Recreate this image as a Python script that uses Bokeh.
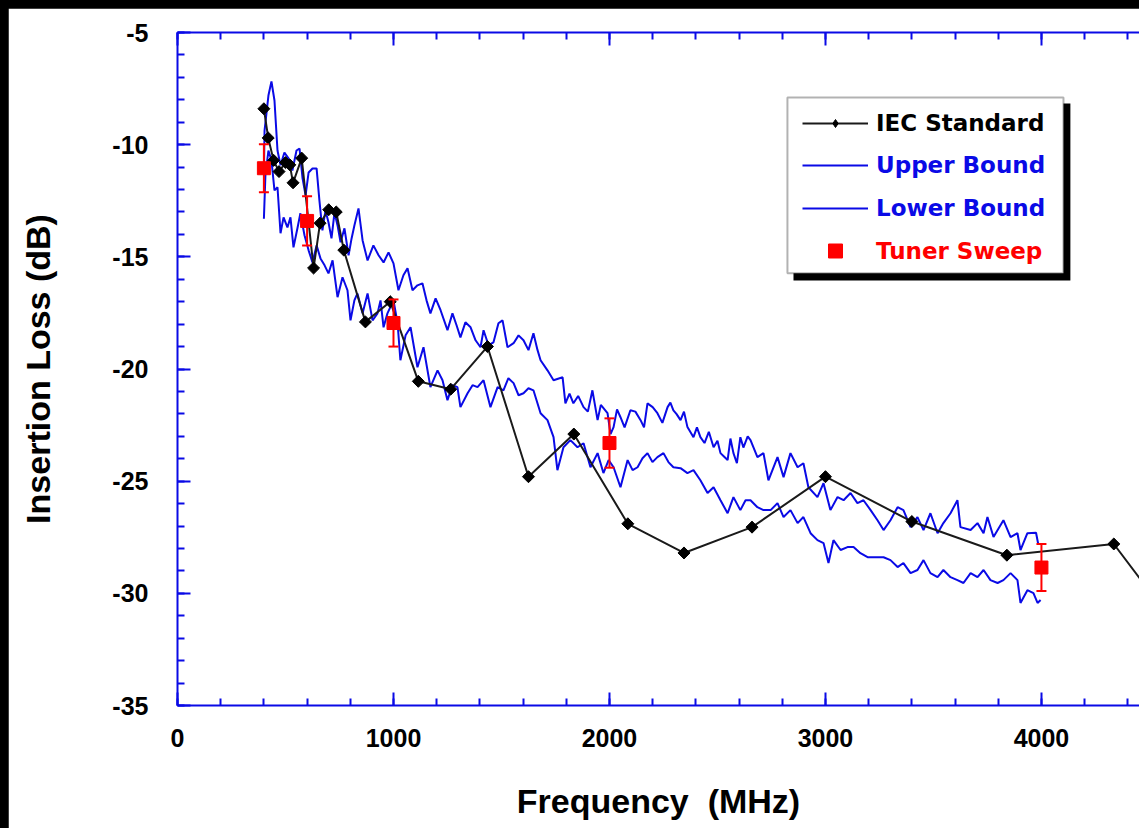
import math
from bokeh.plotting import figure
from bokeh.models import (ColumnDataSource, LinearAxis, SingleIntervalTicker, Range1d,
                          Whisker, TeeHead, Legend, LegendItem, BoxAnnotation,
                          PrintfTickFormatter, CustomJSTickFormatter)
from bokeh.layouts import column
from bokeh.embed import file_html
from bokeh.resources import INLINE

# ---------------- data ----------------
iec_freq = [400, 420, 445, 470, 500, 520, 535, 575, 630, 660, 700, 735, 770, 870, 985,
            1115, 1265, 1435, 1625, 1835, 2085, 2345, 2660, 3000, 3400, 3840, 4335, 4500]
iec_loss = [-8.4, -9.7, -10.7, -11.2, -10.8, -10.9, -11.7, -10.6, -15.5, -13.5, -12.9, -13.0,
            -14.7, -17.9, -17.0, -20.55, -20.9, -19.0, -24.8, -22.9, -26.9, -28.2, -27.05,
            -24.8, -26.8, -28.3, -27.8, -29.9]

upper_freq = [400, 403, 421, 435, 449, 463, 477, 495, 514, 532, 551, 565, 579, 593, 607, 625,
              644, 657, 671, 685, 699, 713, 727, 741, 755, 773, 792, 806, 819, 838, 857, 880,
              907, 931, 954, 977, 1000, 1023, 1046, 1065, 1088, 1111, 1134, 1153, 1171, 1195,
              1218, 1250, 1273, 1292, 1310, 1333, 1357, 1380, 1403, 1417, 1440, 1463, 1486,
              1505, 1528, 1556, 1579, 1602, 1625, 1648, 1667, 1681, 1713, 1741, 1783, 1796,
              1815, 1833, 1855, 1880, 1900, 1921, 1945, 1960, 1991, 2005, 2019, 2035, 2051,
              2070, 2097, 2120, 2144, 2160, 2176, 2200, 2222, 2245, 2269, 2282, 2296, 2310,
              2329, 2345, 2361, 2389, 2405, 2421, 2440, 2460, 2482, 2500, 2514, 2530, 2547,
              2560, 2574, 2590, 2606, 2620, 2640, 2653, 2685, 2713, 2736, 2778, 2806, 2838,
              2871, 2898, 2921, 2963, 2991, 3023, 3056, 3084, 3116, 3148, 3176, 3209, 3241,
              3269, 3301, 3334, 3361, 3394, 3426, 3454, 3486, 3519, 3546, 3579, 3611, 3625,
              3672, 3704, 3732, 3750, 3778, 3824, 3857, 3889, 3903, 3935, 3975, 3985]
upper_loss = [-11.3, -9.37, -7.81, -7.18, -8.03, -10.26, -10.92, -10.35, -10.61, -11.15, -10.26,
              -10.17, -11.50, -12.26, -11.24, -11.06, -11.06, -12.48, -13.82, -12.93, -13.46,
              -14.18, -13.02, -13.60, -14.35, -13.73, -14.93, -14.18, -13.60, -12.84, -14.27,
              -15.16, -14.49, -14.93, -15.25, -14.80, -15.29, -16.49, -15.82, -15.51, -16.49,
              -16.27, -16.18, -16.94, -17.52, -16.85, -17.38, -18.27, -17.52, -18.05, -18.59,
              -17.92, -18.14, -18.72, -19.03, -18.27, -18.94, -18.81, -17.96, -17.83, -19.03,
              -18.85, -18.50, -18.72, -19.16, -18.41, -19.16, -19.61, -20.06, -20.50, -20.37,
              -21.53, -21.1, -21.53, -21.2, -21.70, -21.9, -20.95, -22.28, -21.6, -21.97, -22.9,
              -22.59, -21.8, -22.15, -22.6, -21.84, -21.9, -22.28, -22.6, -21.53, -21.7, -21.97,
              -22.4, -21.70, -21.5, -21.84, -22.0, -22.28, -21.9, -22.59, -23.04, -22.6, -23.04,
              -23.3, -22.8, -23.49, -23.2, -23.75, -23.9, -24.06, -23.1, -23.75, -24.2, -23.04,
              -23.5, -23.0, -23.17, -23.93, -23.75, -24.96, -23.93, -24.82, -23.75, -24.38,
              -24.20, -25.27, -25.71, -25.09, -26.29, -25.71, -25.85, -25.53, -25.98, -25.85,
              -26.29, -26.74, -27.18, -26.74, -26.16, -26.29, -27.05, -26.60, -27.18, -26.43,
              -27.32, -26.87, -26.43, -25.85, -27.05, -27.18, -26.87, -27.32, -26.60, -27.49,
              -26.74, -27.49, -27.32, -28.07, -27.32, -27.30, -27.80]

lower_freq = [400, 407, 421, 435, 449, 463, 477, 491, 509, 523, 537, 556, 569, 588, 607, 625,
              644, 662, 681, 699, 718, 741, 764, 787, 801, 819, 833, 857, 880, 903, 926, 940,
              954, 972, 1000, 1019, 1032, 1056, 1079, 1111, 1139, 1171, 1204, 1227, 1250,
              1273, 1296, 1310, 1343, 1366, 1389, 1417, 1449, 1482, 1509, 1532, 1556, 1579,
              1602, 1625, 1648, 1681, 1713, 1741, 1759, 1787, 1819, 1852, 1880, 1912, 1945,
              1972, 1996, 2019, 2051, 2084, 2107, 2130, 2153, 2176, 2199, 2222, 2250, 2273,
              2296, 2329, 2361, 2389, 2421, 2454, 2482, 2514, 2547, 2574, 2606, 2630, 2653,
              2685, 2713, 2746, 2778, 2806, 2838, 2871, 2898, 2931, 2963, 2991, 3014, 3037,
              3070, 3102, 3130, 3162, 3195, 3241, 3269, 3301, 3334, 3361, 3394, 3426, 3454,
              3486, 3519, 3546, 3579, 3611, 3639, 3672, 3704, 3732, 3764, 3797, 3824, 3857,
              3889, 3903, 3935, 3963, 3982, 3996]
lower_loss = [-13.3, -11.37, -10.26, -10.70, -12.04, -11.90, -13.95, -13.24, -13.69, -13.24,
              -14.58, -13.69, -13.06, -14.04, -14.71, -15.25, -14.49, -15.07, -15.38, -15.74,
              -15.16, -16.80, -15.91, -16.49, -17.83, -16.94, -16.63, -17.52, -16.63, -17.83,
              -17.52, -16.94, -18.14, -17.52, -16.94, -17.96, -19.61, -18.50, -18.14, -19.92,
              -19.03, -20.81, -20.06, -20.50, -21.39, -20.72, -20.81, -21.70, -21.08, -20.72,
              -20.81, -20.50, -21.70, -20.81, -20.95, -20.41, -20.63, -21.17, -21.08, -20.86,
              -20.95, -21.97, -22.28, -23.04, -24.51, -23.49, -23.17, -23.49, -23.31, -24.38,
              -23.75, -24.64, -24.06, -24.38, -25.27, -24.06, -24.51, -24.38, -23.98, -23.75,
              -24.15, -23.93, -23.75, -24.15, -24.38, -24.42, -24.64, -24.51, -24.96, -25.53,
              -25.27, -25.85, -26.43, -25.71, -26.29, -25.85, -25.85, -26.16, -26.29, -26.29,
              -25.98, -26.60, -26.29, -26.87, -26.60, -27.32, -27.63, -27.76, -28.65, -27.63,
              -28.07, -27.94, -27.94, -28.21, -28.39, -28.39, -28.39, -28.52, -28.83, -28.65,
              -29.10, -28.96, -28.52, -29.10, -29.28, -28.96, -29.28, -29.41, -29.54, -29.10,
              -29.28, -28.96, -29.41, -29.54, -29.41, -29.10, -29.41, -30.43, -29.86, -29.99,
              -30.43, -30.30]

tuner_freq = [400, 600, 1000, 2000, 4000]
tuner_loss = [-11.05, -13.4, -17.95, -23.3, -28.85]
tuner_err = [1.07, 1.1, 1.05, 1.1, 1.05]

series_labels = ["IEC Standard", "Upper Bound", "Lower Bound", "Tuner Sweep"]
x_title = "Frequency\u00a0 (MHz)"
y_title = "Insertion Loss (dB)"

# ---------------- styling ----------------
BLUE = "#0a0ae6"
RED = "#ff0000"
AX_FONT = "Liberation Sans"

p = figure(width=1131, height=820, x_range=Range1d(0, 4454), y_range=Range1d(-35, -5),
           output_backend="svg", toolbar_location=None,
           x_axis_location=None, y_axis_location=None,
           min_border_left=169, min_border_right=0, min_border_top=24, min_border_bottom=123,
           background_fill_color="white", border_fill_color="white", outline_line_color=None)
p.grid.grid_line_color = None
p.margin = (8, 0, 0, 8)


def make_axis(ticker, labels=True):
    ax = LinearAxis(ticker=ticker,
                    axis_line_color=BLUE, axis_line_width=2,
                    major_tick_line_color=BLUE, major_tick_line_width=2,
                    minor_tick_line_color=BLUE, minor_tick_line_width=2,
                    major_tick_in=13, major_tick_out=0, minor_tick_in=7, minor_tick_out=0,
                    major_label_text_font=AX_FONT, major_label_text_font_style="bold",
                    major_label_text_font_size="25px",
                    major_label_text_color="black",
                    axis_label_text_font=AX_FONT, axis_label_text_font_style="bold",
                    axis_label_text_font_size="34px", axis_label_text_color="black")
    if labels:
        ax.formatter = PrintfTickFormatter(format="%d")
    else:
        ax.formatter = CustomJSTickFormatter(code="return ''")
    return ax


xb = make_axis(SingleIntervalTicker(interval=1000, num_minor_ticks=5))
xb.axis_label = x_title
xb.major_label_standoff = 23
xb.axis_label_standoff = 32
p.add_layout(xb, "below")

xt = make_axis(SingleIntervalTicker(interval=1000, num_minor_ticks=5), labels=False)
xt.major_label_standoff = 0
p.add_layout(xt, "above")

yl = make_axis(SingleIntervalTicker(interval=5, num_minor_ticks=5))
yl.axis_label = y_title
yl.major_label_standoff = 29
yl.axis_label_standoff = 52
p.add_layout(yl, "left")

# ---------------- data marks ----------------
r_up = p.line(upper_freq, upper_loss, line_color=BLUE, line_width=2)
r_lo = p.line(lower_freq, lower_loss, line_color=BLUE, line_width=2)

r_iec_line = p.line(iec_freq, iec_loss, line_color="#1a1a1a", line_width=2)
# diamond glyph (used by the legend; covered by the rotated squares on the chart)
r_iec_leg = p.scatter(iec_freq, iec_loss, marker="diamond", size=10, fill_color="black",
                      line_color="black")
r_iec_pts = p.scatter(iec_freq, iec_loss, marker="square", size=8.5, angle=math.pi / 4,
                      fill_color="black", line_color="black")

tsrc = ColumnDataSource(dict(
    x=tuner_freq, y=tuner_loss,
    upper=[v + e for v, e in zip(tuner_loss, tuner_err)],
    lower=[v - e for v, e in zip(tuner_loss, tuner_err)]))
wh = Whisker(source=tsrc, base="x", upper="upper", lower="lower", dimension="height",
             line_color=RED, line_width=2, level="annotation",
             upper_head=TeeHead(size=10, line_color=RED, line_width=2),
             lower_head=TeeHead(size=10, line_color=RED, line_width=2))
p.add_layout(wh)
r_tun = p.scatter("x", "y", source=tsrc, marker="square", size=13,
                  fill_color=RED, line_color=RED)

# ---------------- legend ----------------
shadow = BoxAnnotation(left=2852, right=4134, top=-8.16, bottom=-16.05,
                       fill_color="black", fill_alpha=1, line_color=None)
box = BoxAnnotation(left=2824, right=4102, top=-7.90, bottom=-15.73,
                    fill_color="white", fill_alpha=1, line_color="black", line_width=2)
p.add_layout(shadow)
p.add_layout(box)

leg_specs = [
    (series_labels[0], [r_iec_line, r_iec_leg], "black", 20, (625, 569)),
    (series_labels[1], [r_up], BLUE, 20, (625, 527)),
    (series_labels[2], [r_lo], BLUE, 20, (625, 484)),
    (series_labels[3], [r_tun], RED, 35, (625, 437)),
]
for label, rends, color, gh, loc in leg_specs:
    lg = Legend(items=[LegendItem(label=label, renderers=rends)], location=loc,
                border_line_color=None, background_fill_alpha=0, padding=0, margin=0,
                spacing=0, glyph_width=66, glyph_height=gh, label_height=gh,
                label_standoff=8, label_text_font="DejaVu Sans",
                label_text_font_style="bold", label_text_font_size="23px",
                label_text_color=color)
    p.add_layout(lg)

layout = column(p, width=1139, height=828, styles={"background-color": "black"})
open("out.html", "w").write(file_html(layout, INLINE))
